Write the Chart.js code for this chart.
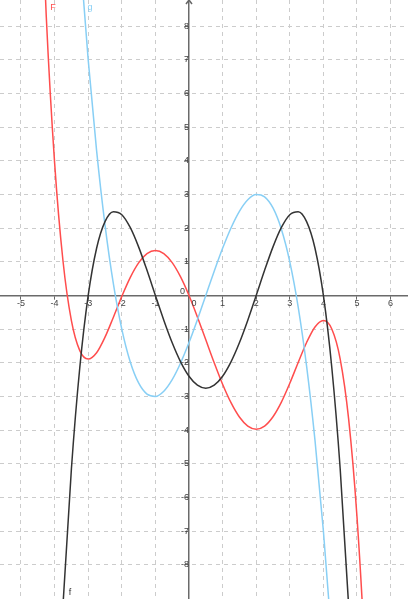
<!DOCTYPE html>
<html><head><meta charset="utf-8">
<script src="https://cdn.jsdelivr.net/npm/chart.js@4.4.0/dist/chart.umd.min.js"></script>
<style>html,body{margin:0;padding:0;background:#fff;}canvas{display:block;}</style>
</head><body>
<canvas id="c" width="408" height="599"></canvas>
<script>
// tick labels
const xTicks = [-5,-4,-3,-2,-1,0,1,2,3,4,5,6];
const yTicks = [-8,-7,-6,-5,-4,-3,-2,-1,0,1,2,3,4,5,6,7,8];

// f (black)
const fX = [-4,-3.75,-3.5,-3.25,-3,-2.75,-2.5,-2.25,-2,-1.75,-1.5,-1.25,-1,-0.75,-0.5,-0.25,0,0.25,0.5,0.75,1,1.25,1.5,1.75,2,2.25,2.5,2.75,3,3.25,3.5,3.75,4,4.25,4.5,4.75,5];
const fY = [-14.4,-9.191,-5.156,-2.141,0,1.403,2.194,2.49,2.4,2.021,1.444,0.746,0,-0.735,-1.406,-1.972,-2.4,-2.666,-2.756,-2.666,-2.4,-1.972,-1.406,-0.735,0,0.746,1.444,2.021,2.4,2.49,2.194,1.403,0,-2.141,-5.156,-9.191,-14.4];

// g (light blue)
const gX = [-3.5,-3.25,-3,-2.75,-2.5,-2.25,-2,-1.75,-1.5,-1.25,-1,-0.75,-0.5,-0.25,0,0.25,0.5,0.75,1,1.25,1.5,1.75,2,2.25,2.5,2.75,3,3.25,3.5,3.75,4,4.25,4.5];
const gY = [14,10.219,7,4.306,2.1,0.344,-1,-1.969,-2.6,-2.931,-3,-2.844,-2.5,-2.006,-1.4,-0.719,0,0.719,1.4,2.006,2.5,2.844,3,2.931,2.6,1.969,1,-0.344,-2.1,-4.306,-7,-10.219,-14];

// F (red)
const FX = [-4.5,-4.25,-4,-3.75,-3.5,-3.25,-3,-2.75,-2.5,-2.25,-2,-1.75,-1.5,-1.25,-1,-0.75,-0.5,-0.25,0,0.25,0.5,0.75,1,1.25,1.5,1.75,2,2.25,2.5,2.75,3,3.25,3.5,3.75,4,4.25,4.5,4.75,5,5.25,5.5];
const FY = [14.546,8.336,3.947,1.024,-0.747,-1.639,-1.89,-1.701,-1.24,-0.645,-0.027,0.531,0.968,1.243,1.337,1.244,0.975,0.55,0,-0.637,-1.318,-2,-2.637,-3.186,-3.611,-3.881,-3.973,-3.88,-3.604,-3.168,-2.61,-1.992,-1.397,-0.936,-0.747,-0.998,-1.89,-3.661,-6.583,-10.972,-17.183];

// curve name labels
const curveNames = ['f','g','F'];
const nameX = [-3.54,-2.95,-4.05];
const nameY = [-8.84,8.55,8.57];

const colors = {f:'#333333', g:'#88cff5', F:'#ff4d4d'};
const FONT = '"Liberation Sans", Arial, sans-serif';
const toPts = (xs, ys) => xs.map((x,i)=>({x, y: ys[i]}));

const extras = {
  id:'extras',
  beforeDraw(chart){
    const c = chart.ctx; c.save(); c.fillStyle='#fff'; c.fillRect(0,0,chart.width,chart.height); c.restore();
  },
  afterDraw(chart){
    const c = chart.ctx, xs = chart.scales.x, ys = chart.scales.y;
    const x0 = xs.getPixelForValue(0), y0 = ys.getPixelForValue(0);
    c.save();
    // arrow on top of y axis
    c.strokeStyle='#666'; c.lineWidth=1.5;
    c.beginPath(); c.moveTo(Math.round(x0)-3, chart.chartArea.top+4); c.lineTo(Math.round(x0), chart.chartArea.top); c.lineTo(Math.round(x0)+3, chart.chartArea.top+4); c.stroke();
    // zero labels
    c.font='9px ' + FONT; c.fillStyle='#444';
    c.textAlign='right'; c.textBaseline='middle';
    c.fillText('0', x0-4, y0-4);
    c.textAlign='center';
    c.fillText('0', x0+5, y0+8);
    // curve names
    c.textAlign='center'; c.textBaseline='middle';
    curveNames.forEach((n,i)=>{
      c.fillStyle = colors[n];
      c.fillText(n, xs.getPixelForValue(nameX[i]), ys.getPixelForValue(nameY[i]));
    });
    c.restore();
  }
};

const zeroPad = s => { s.paddingTop=0; s.paddingBottom=0; s.paddingLeft=0; s.paddingRight=0; };

new Chart(document.getElementById('c'), {
  type:'scatter',
  data:{datasets:[
    {label:'f', data: toPts(fX,fY), borderColor:colors.f},
    {label:'g', data: toPts(gX,gY), borderColor:colors.g},
    {label:'F', data: toPts(FX,FY), borderColor:colors.F}
  ]},
  options:{
    responsive:false, animation:false, devicePixelRatio:1,
    layout:{padding:0},
    datasets:{scatter:{showLine:true, pointRadius:0, borderWidth:1.5, cubicInterpolationMode:'monotone', fill:false}},
    plugins:{legend:{display:false}, tooltip:{enabled:false}},
    scales:{
      x:{type:'linear', min:-5.625, max:6.518, position:{y:0},
        afterBuildTicks: s => { s.ticks = xTicks.map(v=>({value:v})); },
        afterFit: zeroPad,
        grid:{color:'#cccccc', lineWidth:1, tickLength:3, tickColor:'#666', tickWidth:1},
        border:{display:true, color:'#6a6a6a', width:1.5, dash:[4,4]},
        ticks:{padding:0, color:'#444', font:{size:9, family:FONT}, maxRotation:0, autoSkip:false,
          callback: v => v===0 ? '' : String(v)}
      },
      y:{type:'linear', min:-9.02, max:8.78, position:{x:0},
        afterBuildTicks: s => { s.ticks = yTicks.map(v=>({value:v})); },
        afterFit: zeroPad,
        grid:{color:'#cccccc', lineWidth:1, tickLength:3, tickColor:'#666', tickWidth:1},
        border:{display:true, color:'#6a6a6a', width:1.5, dash:[4,4]},
        ticks:{padding:1, color:'#444', font:{size:9, family:FONT}, autoSkip:false,
          callback: v => v===0 ? '' : String(v)}
      }
    }
  },
  plugins:[extras]
});
</script>
</body></html>
